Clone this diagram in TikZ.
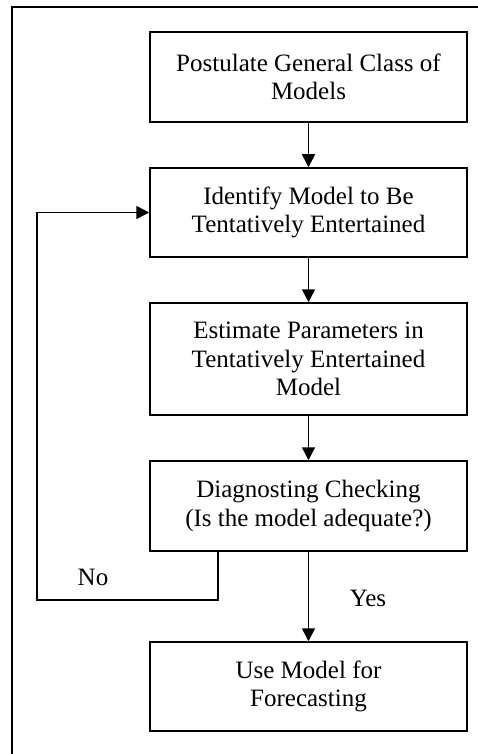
\documentclass[tikz,border=0pt]{standalone}
\usepackage{fontspec}
\setmainfont{Liberation Serif}
\usetikzlibrary{arrows.meta}

\begin{document}
\begin{tikzpicture}[x=1pt,y=-1pt,
    stage/.style={draw, line width=1.5pt, minimum width=317pt, align=center,
                  font=\fontsize{25}{28.5}\selectfont},
    flow/.style={line width=1.5pt, -{Triangle[length=13pt,width=13pt]}}]
  \useasboundingbox (0,0) rectangle (478,754);
  % Frame
  \draw[line width=1.5pt] (480,7) -- (12,7) -- (12,756);
  % Stages
  \node[stage, minimum height=90pt]  (postulate) at (308.5,77)    {Postulate General Class of\\Models};
  \node[stage, minimum height=89pt]  (identify)  at (308.5,212.5) {Identify Model to Be\\Tentatively Entertained};
  \node[stage, minimum height=112pt] (estimate)  at (308.5,359)   {Estimate Parameters in\\Tentatively Entertained\\Model};
  \node[stage, minimum height=90pt]  (check)     at (308.5,506)   {Diagnosting Checking\\(Is the model adequate?)};
  \node[stage, minimum height=89pt]  (use)       at (308.5,686.5) {Use Model for\\Forecasting};
  % Main flow
  \draw[flow] (postulate) -- (identify);
  \draw[flow] (identify) -- (estimate);
  \draw[flow] (estimate) -- (check);
  \draw[flow] (check) -- (use);
  % Loop back
  \coordinate (turn) at (218,600);
  \coordinate (back) at (37,600);
  \draw[flow] (turn |- check.south) -- (turn) -- (back) |- (identify.west);
  \node[font=\fontsize{25}{28.5}\selectfont] (no)  at (93,577)  {No};
  \node[font=\fontsize{25}{28.5}\selectfont] (yes) at (368,598) {Yes};
\end{tikzpicture}
\end{document}
